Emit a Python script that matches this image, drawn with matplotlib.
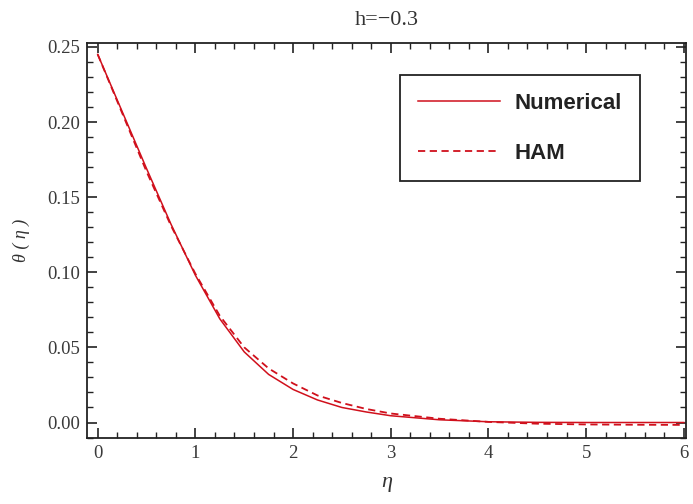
import numpy as np
import matplotlib
matplotlib.use("Agg")
import matplotlib.pyplot as plt
from matplotlib.ticker import MultipleLocator

eta_num = [0.0, 0.25, 0.5, 0.75, 1.0, 1.25, 1.5, 1.75, 2.0, 2.25, 2.5, 2.75, 3.0, 3.5, 4.0, 4.5, 5.0, 5.5, 6.0]
theta_num = [0.245, 0.207, 0.169, 0.132, 0.098, 0.069, 0.047, 0.032, 0.022, 0.015, 0.010, 0.007, 0.0045, 0.0018, 0.0005, 0.0001, 0.0, 0.0, 0.0]
eta_ham = [0.0, 0.25, 0.5, 0.75, 1.0, 1.25, 1.5, 1.75, 2.0, 2.25, 2.5, 2.75, 3.0, 3.5, 4.0, 4.5, 5.0, 5.5, 6.0]
theta_ham = [0.245, 0.206, 0.167, 0.131, 0.099, 0.071, 0.050, 0.036, 0.026, 0.018, 0.013, 0.009, 0.006, 0.0025, 0.0004, -0.0008, -0.0013, -0.0015, -0.0016]
labels = ["Numerical", "HAM"]
title = "h=\u22120.3"

red = "#d0101c"
serif = ["Liberation Serif", "DejaVu Serif"]

fig = plt.figure(figsize=(6.93, 5.04), dpi=100)
ax = fig.add_axes([0.1255, 0.131, 0.864, 0.784])
ax.plot(eta_num, theta_num, color=red, lw=1.1, label=labels[0])
ax.plot(eta_ham, theta_ham, color=red, lw=1.3, ls=(0, (4, 2.5)), label=labels[1])

ax.set_xlim(-0.11, 6.02)
ax.set_ylim(-0.0103, 0.2527)
ax.xaxis.set_major_locator(MultipleLocator(1))
ax.xaxis.set_minor_locator(MultipleLocator(0.2))
ax.yaxis.set_major_locator(MultipleLocator(0.05))
ax.yaxis.set_minor_locator(MultipleLocator(0.01))
ax.yaxis.set_major_formatter(matplotlib.ticker.FormatStrFormatter("%.2f"))
ax.tick_params(which="both", direction="in", top=True, right=True, color="#222222")
ax.tick_params(which="major", length=7, width=1.2, labelsize=13.5, pad=5)
ax.tick_params(which="minor", length=4, width=1.0)
for lab in ax.get_xticklabels() + ax.get_yticklabels():
    lab.set_family(serif)
    lab.set_color("#3a3a3a")
for s in ax.spines.values():
    s.set_linewidth(1.3)
    s.set_color("#222222")

ax.set_title(title, family=serif, fontsize=16, color="#333333", pad=13)
ax.set_xlabel("\u03b7", family=serif, style="italic", fontsize=16, color="#333333", labelpad=8)
ax.set_ylabel("\u03b8 ( \u03b7 )", family=serif, style="italic", fontsize=13, color="#333333", labelpad=12)

leg = ax.legend(loc="upper right", bbox_to_anchor=(0.923, 0.919), fancybox=False,
                edgecolor="#222222", framealpha=1, handlelength=3.7, borderpad=0.8,
                labelspacing=1.3, handletextpad=0.65, borderaxespad=0,
                prop={"family": "Liberation Sans", "weight": "bold", "size": 16})
leg.get_frame().set_linewidth(1.3)
for t in leg.get_texts():
    t.set_color("#222222")

fig.savefig("out.png", dpi=100)
